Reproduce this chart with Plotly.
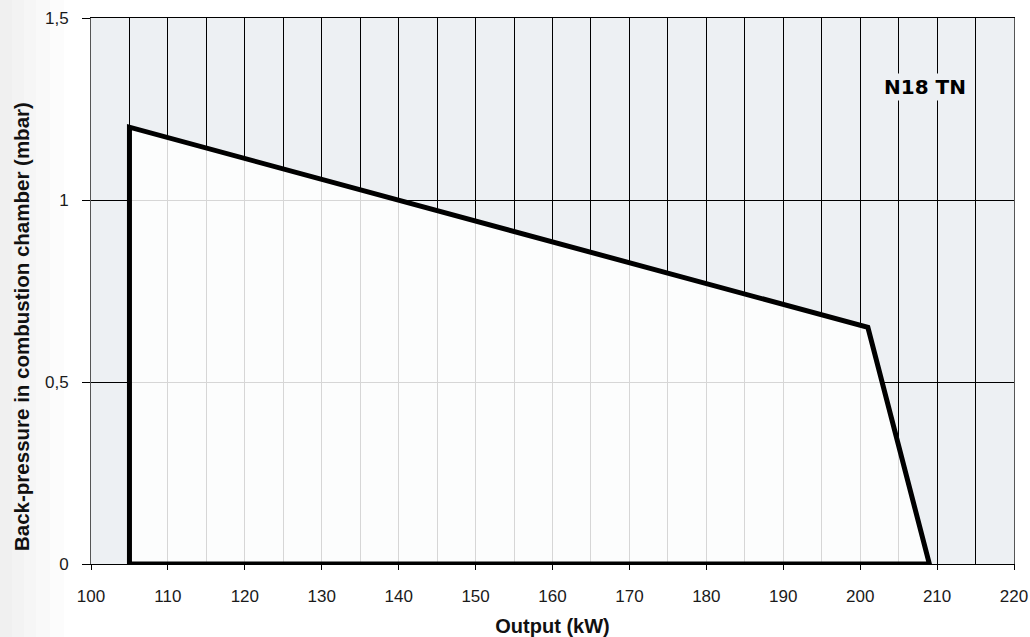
import plotly.graph_objects as go

# Operating envelope (kW, mbar)
output_kw = [105, 105, 201, 209, 105]
back_pressure = [0, 1.2, 0.65, 0, 0]

x_ticks = [100, 110, 120, 130, 140, 150, 160, 170, 180, 190, 200, 210, 220]
y_ticks = [0, 0.5, 1, 1.5]
y_tick_labels = ["0", "0,5", "1", "1,5"]

model_label = "N18 TN"
x_title = "Output (kW)"
y_title = "Back-pressure in combustion chamber (mbar)"

L, R, T, B = 91, 16, 18, 73
W, H = 1030, 637
PW = W - L - R
PH = H - T - B

fig = go.Figure()
fig.add_trace(go.Scatter(
    x=output_kw, y=back_pressure,
    mode="lines", fill="toself",
    fillcolor="rgba(255,255,255,0.84)",
    line=dict(color="black", width=5),
    hoverinfo="skip", showlegend=False,
))

fig.add_annotation(
    x=208.4, y=1.31, text="<b>" + model_label + "</b>",
    showarrow=False, bgcolor="#edf0f3",
    font=dict(family="DejaVu Sans", size=20, color="black"),
)

# y-axis title (placed slightly below the axis centre, as in the original)
fig.add_annotation(
    xref="paper", yref="paper",
    x=(21 - L) / PW, y=(H - B - 327) / PH,
    xanchor="center", yanchor="middle",
    text="<b>" + y_title + "</b>", textangle=-90, showarrow=False,
    font=dict(family="Liberation Sans, Arial", size=20.5, color="#111"),
)

# faint scan shading at the left edge of the page
for w in (12, 24, 36, 50, 64):
    fig.add_shape(
        type="rect", xref="paper", yref="paper", layer="below",
        x0=(0 - L) / PW, x1=(w - L) / PW, y0=-B / PH, y1=1 + T / PH,
        line=dict(width=0), fillcolor="rgba(0,0,0,0.013)",
    )

fig.update_layout(
    width=W, height=H,
    margin=dict(l=L, r=R, t=T, b=B, autoexpand=False),
    paper_bgcolor="white", plot_bgcolor="#edf0f3",
    font=dict(family="Liberation Sans, Arial", size=17, color="#1a1a1a"),
    separators=", ",
    xaxis=dict(
        range=[100, 220], tickvals=x_ticks, automargin=False,
        showgrid=True, gridcolor="black", gridwidth=1,
        minor=dict(dtick=5, tick0=100, showgrid=True, gridcolor="black", gridwidth=1),
        ticks="outside", ticklen=5, tickcolor="black",
        ticklabelstandoff=12,
        showline=True, linecolor="black", linewidth=1, mirror=True,
        zeroline=False,
        title=dict(text="<b>" + x_title + "</b>", font=dict(size=20, color="#111"), standoff=14),
    ),
    yaxis=dict(
        range=[0, 1.5], tickvals=y_ticks, ticktext=y_tick_labels, automargin=False,
        showgrid=True, gridcolor="black", gridwidth=1,
        ticks="outside", ticklen=8, tickcolor="black",
        ticklabelstandoff=10,
        showline=True, linecolor="#555", linewidth=1, mirror=True,
        zeroline=False,
    ),
)

fig.write_html(
    "out.html",
    config={"displayModeBar": False},
    post_script="document.body.style.margin='0';document.body.style.overflow='hidden';",
)
